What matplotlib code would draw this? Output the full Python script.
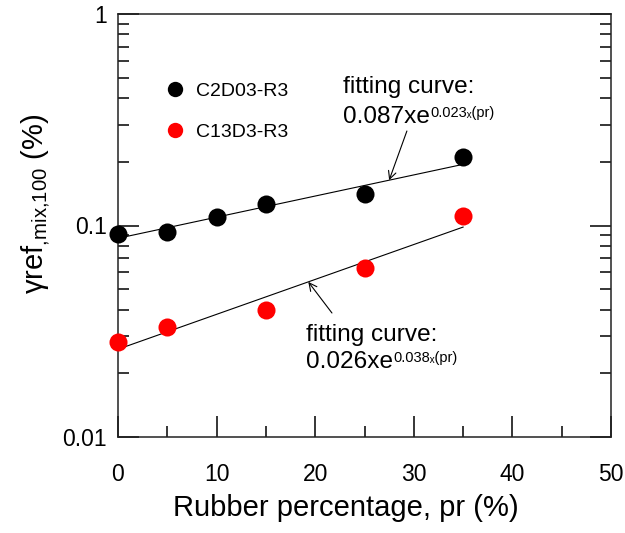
import numpy as np
import matplotlib
matplotlib.use("Agg")
import matplotlib.pyplot as plt
from matplotlib.ticker import FixedLocator, LogLocator, NullFormatter, FixedFormatter

plt.rcParams['font.family'] = ['Liberation Sans', 'DejaVu Sans']
plt.rcParams['mathtext.fontset'] = 'custom'
plt.rcParams['mathtext.rm'] = 'Liberation Sans'
plt.rcParams['mathtext.it'] = 'Liberation Sans:italic'
plt.rcParams['mathtext.bf'] = 'Liberation Sans:bold'

# Measured strain values
pr_c2d03 = [0, 5, 10, 15, 25, 35]
gamma_c2d03 = [0.091, 0.093, 0.110, 0.126, 0.141, 0.211]

pr_c13d3 = [0, 5, 15, 25, 35]
gamma_c13d3 = [0.028, 0.033, 0.040, 0.063, 0.111]

# Exponential fits: a * exp(b * pr)
fit_c2d03 = (0.087, 0.023)
fit_c13d3 = (0.026, 0.038)
fit_range = (0, 35)

x_ticks = [0, 10, 20, 30, 40, 50]
y_ticks = [0.01, 0.1, 1]
y_ticklabels = ["0.01", "0.1", "1"]

fig = plt.figure(figsize=(6.25, 5.33), dpi=100)
ax = fig.add_axes([118 / 625, 1 - 437 / 533, 493 / 625, 423 / 533])

ax.set_yscale('log')
ax.set_xlim(0, 50)
ax.set_ylim(0.01, 1)

pr_fit = np.linspace(fit_range[0], fit_range[1], 100)
ax.plot(pr_fit, fit_c2d03[0] * np.exp(fit_c2d03[1] * pr_fit), color='black', lw=0.8, zorder=2)
ax.plot(pr_fit, fit_c13d3[0] * np.exp(fit_c13d3[1] * pr_fit), color='black', lw=0.8, zorder=2)

ax.plot(pr_c2d03, gamma_c2d03, 'o', color='black', ms=13, mec='none', zorder=3,
        clip_on=False, label='C2D03-R3')
ax.plot(pr_c13d3, gamma_c13d3, 'o', color='#ff0000', ms=13, mec='none', zorder=3,
        clip_on=False, label='C13D3-R3')

# Ticks
ax.xaxis.set_major_locator(FixedLocator(x_ticks))
ax.xaxis.set_minor_locator(FixedLocator([5, 15, 25, 35, 45]))
ax.yaxis.set_major_locator(FixedLocator(y_ticks))
ax.yaxis.set_major_formatter(FixedFormatter(y_ticklabels))
ax.yaxis.set_minor_locator(LogLocator(base=10, subs=np.arange(2, 10), numticks=20))
ax.yaxis.set_minor_formatter(NullFormatter())

ax.tick_params(axis='x', which='major', direction='in', length=15, width=1.1,
               top=False, labelsize=16.5, pad=19)
ax.tick_params(axis='x', which='minor', direction='in', length=8, width=1.1, top=False)
ax.tick_params(axis='y', which='major', direction='in', length=15, width=1.1,
               right=True, labelsize=16.5, pad=8)
ax.tick_params(axis='y', which='minor', direction='in', length=8, width=1.1, right=True)

for sp in ax.spines.values():
    sp.set_linewidth(1.1)
    sp.set_color('#222222')

ax.set_xlabel('Rubber percentage, pr (%)', fontsize=21)
ax.xaxis.set_label_coords(0.4625, -0.135)
ax.set_ylabel(r'$\mathrm{γref}_{{,}\mathrm{mix}{,}100}$ (%)', fontsize=21)
ax.yaxis.set_label_coords(-0.134, 0.551)

leg = ax.legend(loc='upper left', bbox_to_anchor=(0.06, 0.88), frameon=False,
                fontsize=14, markerscale=0.85, handletextpad=0.6, labelspacing=1.2,
                handlelength=1.0)


def px_to_gamma(py):
    """Convert a pixel row of the axes into a value on the log axis."""
    return 10 ** (-(py - 14) / 211.5)


def fit_label(x, y1, y2, coef, expo):
    """Two-line fit label with a small superscript exponent."""
    ax.text(x, y1, 'fitting curve:', fontsize=17.6, ha='left', va='baseline')
    base = ax.text(x, y2, f'{coef}xe', fontsize=17.6, ha='left', va='baseline')
    ax.annotate(expo, xy=(1.0, 0.0), xycoords=base, xytext=(0.5, 8),
                textcoords='offset points', fontsize=10.5, ha='left', va='baseline')


# Upper fit label and arrow
fit_label(22.82, px_to_gamma(93), px_to_gamma(123), '0.087', '0.023ₓ(pr)')
ax.annotate('', xy=(27.5, fit_c2d03[0] * np.exp(fit_c2d03[1] * 27.5)),
            xytext=(29.3, px_to_gamma(131)),
            arrowprops=dict(arrowstyle='->', color='black', lw=0.8,
                            mutation_scale=14, shrinkA=0, shrinkB=0))

# Lower fit label and arrow
fit_label(19.07, px_to_gamma(341), px_to_gamma(368), '0.026', '0.038ₓ(pr)')
ax.annotate('', xy=(19.3, fit_c13d3[0] * np.exp(fit_c13d3[1] * 19.3)),
            xytext=(21.7, px_to_gamma(313)),
            arrowprops=dict(arrowstyle='->', color='black', lw=0.8,
                            mutation_scale=14, shrinkA=0, shrinkB=0))

fig.savefig('out.png', dpi=100)
